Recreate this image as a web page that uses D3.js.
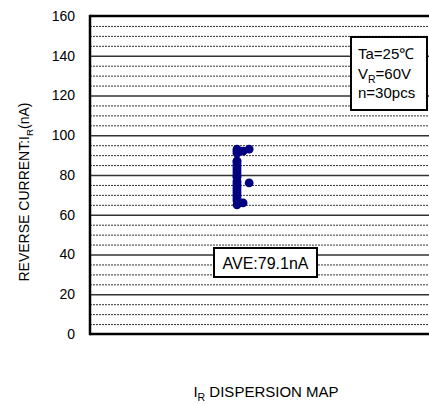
<!DOCTYPE html>
<html><head><meta charset="utf-8">
<script src="https://cdn.jsdelivr.net/npm/d3@7"></script>
<style>
html,body{margin:0;padding:0;background:#fff;}
text{font-family:"Liberation Sans",Arial,Helvetica,sans-serif;fill:#000;}
</style></head>
<body>
<svg id="chart" width="429" height="405"></svg>
<script>
// ---- data ----
const yTicks = [0, 20, 40, 60, 80, 100, 120, 140, 160];
const irValues = [93, 93, 92, 91, 92, 87, 87, 86, 85, 84, 83, 82, 81, 80, 79,
                  79, 77, 76, 76, 75, 74, 73, 72, 71, 70, 69, 68, 67, 66, 65];
const irSlot   = [0, 2, 1, 0, 0, 0, 0, 0, 0, 0, 0, 0, 0, 0, 0,
                  0, 0, 2, 0, 0, 0, 0, 0, 0, 0, 0, 0, 0, 1, 0];
const conditions = ["Ta=25\u2103", "V|R|=60V", "n=30pcs"];
const average = "AVE:79.1nA";
const yTitle = "REVERSE CURRENT:I|R|(nA)";
const xTitle = "I|R| DISPERSION MAP";

// ---- layout ----
const svg = d3.select("#chart");
const L = 90, T = 16, B = 334, R = 445;
const y = d3.scaleLinear().domain([0, 160]).range([B, T]);
const x = d3.scaleLinear().domain([0, 4]).range([L, L + 392]);
const colX = 1.5, slotW = 0.062;

// minor grid
const minor = d3.range(5, 160, 5).filter(v => v % 20 !== 0);
svg.append("g").selectAll("line").data(minor).join("line")
  .attr("x1", L).attr("x2", R).attr("y1", d => y(d) + 0.5).attr("y2", d => y(d) + 0.5)
  .attr("stroke", "#333").attr("stroke-width", 1).attr("stroke-dasharray", "2,1");
// major grid
svg.append("g").selectAll("line").data(yTicks.filter(v => v > 0 && v < 160)).join("line")
  .attr("x1", L).attr("x2", R).attr("y1", d => y(d) + 0.5).attr("y2", d => y(d) + 0.5)
  .attr("stroke", "#333").attr("stroke-width", 1.3);

// frame
svg.append("line").attr("x1", L).attr("x2", R).attr("y1", y(160)).attr("y2", y(160))
  .attr("stroke", "#000").attr("stroke-width", 2.5);
svg.append("line").attr("x1", L).attr("x2", R).attr("y1", y(0)).attr("y2", y(0))
  .attr("stroke", "#000").attr("stroke-width", 2.5);
svg.append("line").attr("x1", L).attr("x2", L).attr("y1", y(160) - 1.2).attr("y2", y(0) + 1.2)
  .attr("stroke", "#000").attr("stroke-width", 2.5);

// y axis labels
const yAxis = svg.append("g").attr("transform", `translate(${L},0)`)
  .call(d3.axisLeft(y).tickValues(yTicks).tickSize(0).tickPadding(15).tickFormat(d3.format("d")));
yAxis.select(".domain").remove();
yAxis.selectAll("text").style("font-size", "14px").attr("fill", "#000")
  .style("font-family", '"Liberation Sans",Arial,sans-serif');

// helper for text with subscript markup a|b|c
function richText(sel, str, size) {
  const parts = str.split("|");
  parts.forEach((p, i) => {
    if (!p) return;
    const t = sel.append("tspan").text(p);
    if (i % 2 === 1) t.attr("dy", size * 0.28).style("font-size", (size * 0.7) + "px");
    else if (i > 0) t.attr("dy", -size * 0.28);
  });
  return sel;
}

// points
svg.append("g").selectAll("circle").data(irValues).join("circle")
  .attr("cx", (d, i) => x(colX + irSlot[i] * slotW))
  .attr("cy", d => y(d))
  .attr("r", 4.4)
  .attr("fill", "#000080");

// conditions box
svg.append("rect").attr("x", 351).attr("y", 37).attr("width", 76).attr("height", 73)
  .attr("fill", "#fff").attr("stroke", "#000").attr("stroke-width", 2);
conditions.forEach((c, i) => {
  const t = svg.append("text").attr("x", 358).attr("y", 59 + i * 19.5).style("font-size", "15px");
  richText(t, c, 15);
});

// average box
svg.append("rect").attr("x", 214).attr("y", 248).attr("width", 103).attr("height", 29)
  .attr("fill", "#fff").attr("stroke", "#000").attr("stroke-width", 2);
svg.append("text").attr("x", 265.5).attr("y", 268.5).attr("text-anchor", "middle")
  .style("font-size", "16px").text(average);

// axis titles
const yt = svg.append("text").attr("transform", "translate(29,192) rotate(-90)")
  .attr("text-anchor", "middle").style("font-size", "14px");
richText(yt, yTitle, 14);
const xt = svg.append("text").attr("x", 266).attr("y", 397)
  .attr("text-anchor", "middle").style("font-size", "15px");
richText(xt, xTitle, 15);
</script>
</body></html>
